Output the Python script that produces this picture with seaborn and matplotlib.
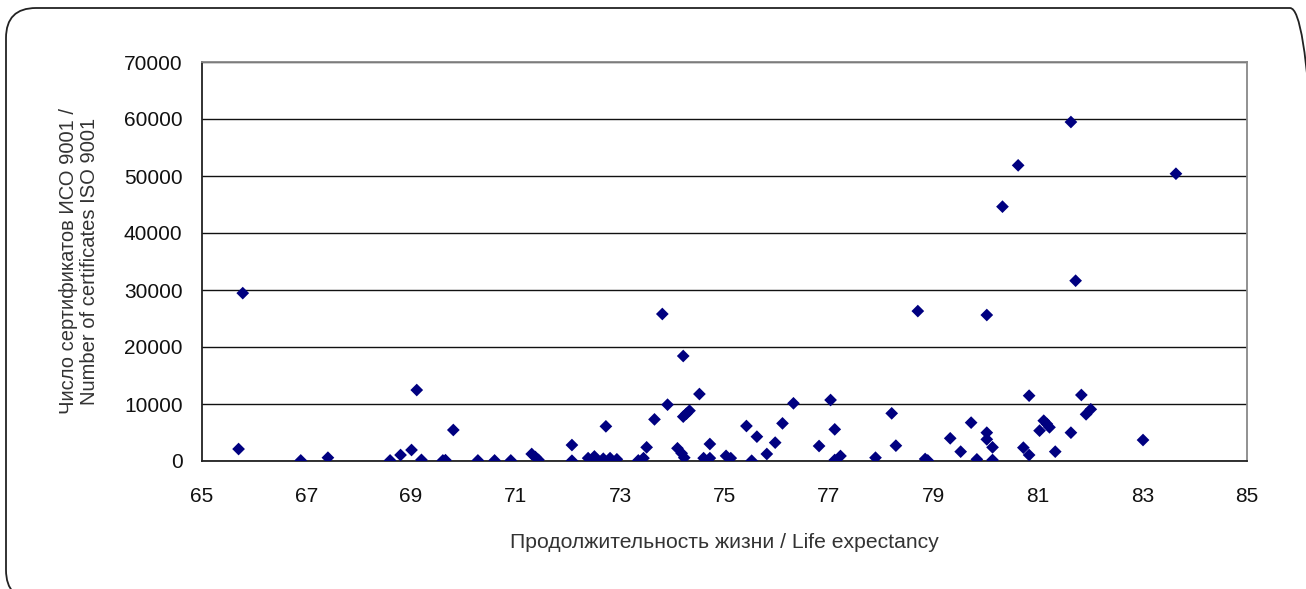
"""Scatter: life expectancy vs number of ISO 9001 certificates."""

import matplotlib
matplotlib.use("Agg")
import matplotlib.pyplot as plt
from matplotlib.patches import FancyBboxPatch
from matplotlib.transforms import IdentityTransform
import seaborn as sns
import pandas as pd

# Values
life_expectancy = [
    65.70, 65.78, 66.89, 67.41, 68.60, 68.80, 69.01, 69.11, 69.20, 69.61,
    69.66, 69.81, 70.28, 70.60, 70.91, 71.31, 71.38, 71.44, 72.08, 72.08,
    72.39, 72.51, 72.55, 72.68, 72.73, 72.81, 72.94, 73.35, 73.45, 73.51,
    73.66, 73.81, 73.91, 74.10, 74.18, 74.23, 74.21, 74.21, 74.27, 74.33,
    74.52, 74.60, 74.72, 74.72, 75.03, 75.12, 75.42, 75.52, 75.62, 75.81,
    75.97, 76.11, 76.32, 76.81, 77.03, 77.11, 77.11, 77.22, 77.89, 78.20,
    78.28, 78.70, 78.84, 78.89, 79.32, 79.52, 79.72, 79.83, 80.02, 80.02,
    80.02, 80.13, 80.13, 80.32, 80.62, 80.72, 80.83, 80.83, 81.03, 81.11,
    81.17, 81.22, 81.33, 81.63, 81.63, 81.72, 81.83, 81.92, 82.01, 83.01,
    83.64,
]
certificates = [
    2100, 29450, 100, 580, 100, 1050, 1930, 12450, 200, 100,
    150, 5440, 100, 100, 100, 1230, 700, 200, 2800, 50,
    500, 800, 300, 400, 6080, 500, 300, 100, 500, 2400,
    7300, 25790, 9880, 2230, 1350, 580, 18420, 7780, 8300, 8830,
    11750, 500, 500, 2980, 900, 500, 6140, 50, 4270, 1230,
    3220, 6600, 10120, 2630, 10700, 5550, 175, 880, 580, 8360,
    2690, 26300, 350, 100, 3980, 1640, 6730, 290, 4970, 3800,
    25610, 2400, 175, 44620, 51870, 2340, 1050, 11460, 5320, 7070,
    6500, 5910, 1640, 4970, 59470, 31630, 11580, 8190, 9070, 3680,
    50400,
]

x_ticks = list(range(65, 86, 2))
y_ticks = list(range(0, 70001, 10000))

x_label = "Продолжительность жизни / Life expectancy"
y_label = "Число сертификатов ИСО 9001 /\nNumber of certificates ISO 9001"

sns.set_style("white")
plt.rcParams["font.family"] = ["Liberation Sans", "DejaVu Sans"]

df = pd.DataFrame({"life": life_expectancy, "certs": certificates})

fig = plt.figure(figsize=(13.06, 5.89), dpi=100)

# rounded frame around the whole chart (pixel coordinates)
frame = FancyBboxPatch(
    (6, -11), 1314, 592,
    boxstyle="round,pad=0,rounding_size=30",
    transform=IdentityTransform(),
    facecolor="none", edgecolor="#222222", linewidth=1.3,
)
fig.patches.append(frame)

ax = fig.add_axes([202 / 1306, 1 - 461 / 589, 1045 / 1306, 399 / 589])

sns.scatterplot(
    data=df, x="life", y="certs", ax=ax,
    marker="D", s=42, color="#000080", edgecolor="none", linewidth=0,
    zorder=3,
)

ax.set_xlim(65, 85)
ax.set_ylim(0, 70000)
ax.set_xticks(x_ticks)
ax.set_yticks(y_ticks)
ax.yaxis.grid(True, color="#111111", linewidth=1.0)
ax.set_axisbelow(True)

for side in ["top", "right"]:
    ax.spines[side].set_color("#888888")
    ax.spines[side].set_linewidth(1.3)
for side in ["left", "bottom"]:
    ax.spines[side].set_color("#222222")
    ax.spines[side].set_linewidth(1.3)

ax.tick_params(axis="both", direction="out", length=5, width=1.0,
               color="#222222", labelsize=15, labelcolor="#111111")
ax.tick_params(axis="x", pad=14)
ax.tick_params(axis="y", pad=9)

ax.set_xlabel(x_label, fontsize=15.2, color="#333333", labelpad=19)
ax.set_ylabel(y_label, fontsize=14.5, color="#333333", labelpad=18,
              linespacing=1.15)

fig.savefig("out.png", dpi=100)
plt.close(fig)
